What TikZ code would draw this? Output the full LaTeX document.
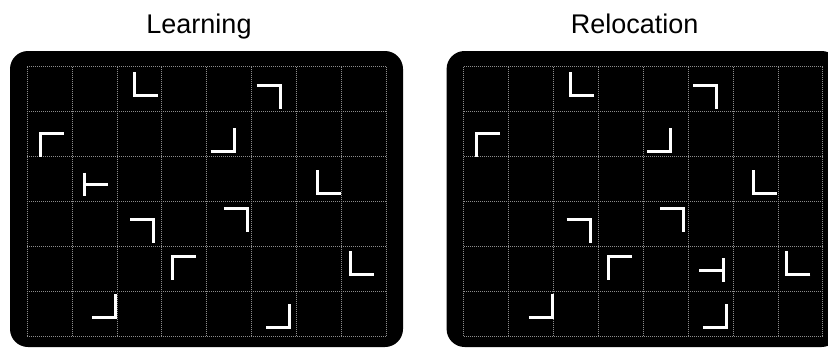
\documentclass[tikz,border=0pt]{standalone}
\usepackage{fontspec}
\newfontfamily\titlefont{Liberation Sans}

\begin{document}
\begin{tikzpicture}[x=1pt, y=-1pt,
  panelbg/.style={fill=black, rounded corners=18pt},
  gridline/.style={white!55!black, line width=0.7pt, dash pattern=on 1pt off 1pt},
  glyph/.style={white, line width=3pt, line join=miter},
  titletext/.style={anchor=base, font=\titlefont\fontsize{27}{32}\selectfont}]

\def\cell{44.88}
\def\arm{23.5}
\def\gridX{27.2}
\def\gridY{66.7}
\def\panelGap{436.6}

\useasboundingbox (0,0) rectangle (828,348);
\clip (0,0) rectangle (828,348);

% --- TITLES ---
\node[titletext] (learnTitle) at (199,33.3) {Learning};
\node[titletext] (relocTitle) at (634.7,33.3) {Relocation};

% --- PANELS, GRIDS, SHARED CORNER GLYPHS ---
\foreach \sx in {0,\panelGap} {
  \fill[panelbg] (10+\sx,51) rectangle (403+\sx,347);
  \begin{scope}[shift={(\gridX+\sx,\gridY)}]
    \foreach \i in {0,...,8}
      \draw[gridline] (\i*\cell,0) -- (\i*\cell,6*\cell);
    \foreach \j in {0,...,6}
      \draw[gridline] (0,\j*\cell) -- (8*\cell,\j*\cell);
    % corner x/y, horizontal arm dir, vertical arm dir (+ = down)
    \foreach \cx/\cy/\hd/\vd in {106.8/28.8/1/-1, 12.8/66.3/1/1,
        252.8/18.3/-1/1, 207.0/85.0/-1/-1, 289.8/127.0/1/-1,
        126.3/152.8/-1/1, 144.8/189.9/1/1, 88.5/250.6/-1/-1,
        220.1/141.5/-1/1, 323.1/207.5/1/-1, 262.5/260.8/-1/-1}
      \draw[glyph] ({\cx+\hd*\arm},\cy) -- (\cx,\cy) -- (\cx,{\cy+\vd*\arm});
  \end{scope}
}

% --- TEE GLYPHS (differ between panels) ---
\begin{scope}[shift={(\gridX,\gridY)}]
  \draw[glyph] (56.8,106.0) -- (56.8,129.3);
  \draw[glyph] (56.8,117.8) -- (81.1,117.8);
\end{scope}
\begin{scope}[shift={(\gridX+\panelGap,\gridY)}]
  \draw[glyph] (259.5,191.6) -- (259.5,215.0);
  \draw[glyph] (259.5,203.3) -- (234.9,203.3);
\end{scope}

\end{tikzpicture}
\end{document}
